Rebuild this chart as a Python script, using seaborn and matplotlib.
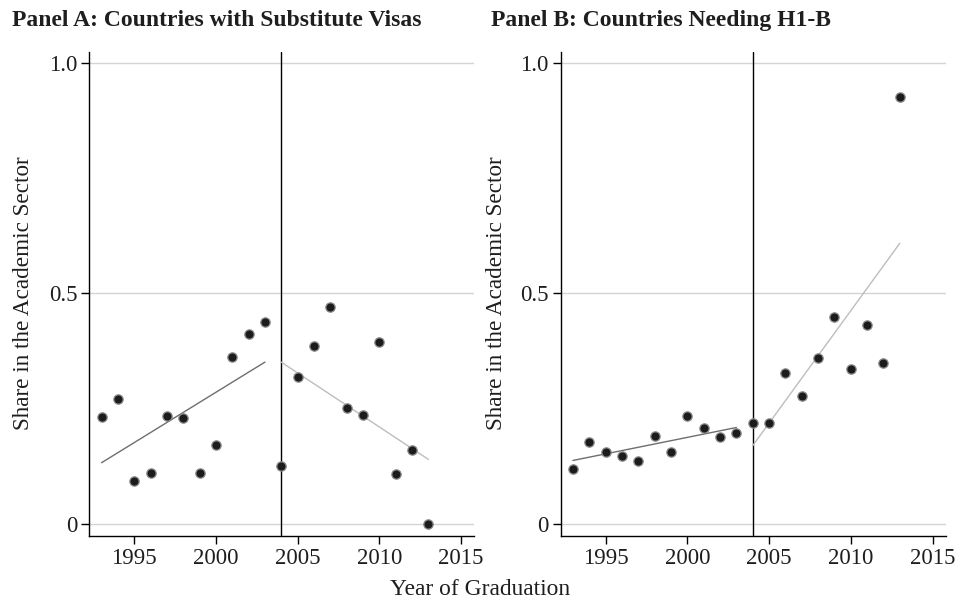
"""
Share in the academic sector by year of graduation, two panels
(substitute-visa countries vs. countries needing H1-B).
"""

import numpy as np
import pandas as pd
import matplotlib
matplotlib.use('Agg')
import matplotlib.pyplot as plt
import seaborn as sns

sns.set_theme(style='white')
plt.rcParams['font.family'] = ['Liberation Serif', 'DejaVu Serif']

# Data
years = list(range(1993, 2014))
share_substitute = [0.231, 0.270, 0.092, 0.110, 0.233, 0.229, 0.110, 0.170,
                    0.362, 0.411, 0.438, 0.125, 0.319, 0.385, 0.471, 0.252,
                    0.236, 0.394, 0.107, 0.160, 0.000]
share_h1b = [0.118, 0.177, 0.155, 0.146, 0.135, 0.190, 0.155, 0.233,
             0.208, 0.187, 0.197, 0.219, 0.219, 0.327, 0.276, 0.359,
             0.449, 0.335, 0.432, 0.349, 0.926]
cutoff_year = 2004
panel_titles = ['Panel A: Countries with Substitute Visas',
                'Panel B: Countries Needing H1-B']
x_ticks = [1995, 2000, 2005, 2010, 2015]
y_ticks = [0, 0.5, 1.0]
y_tick_labels = ['0', '0.5', '1.0']

df = pd.DataFrame({'year': years, 'A': share_substitute, 'B': share_h1b})

fig = plt.figure(figsize=(9.6, 6.02), dpi=100)
ax_pos = [[0.093, 0.1096, 0.401, 0.804], [0.584, 0.1096, 0.401, 0.804]]
title_x = [0.0125, 0.511]
ylabel_x = [0.025, 0.5175]
text_color = '#1e1e1e'

for i, col in enumerate(['A', 'B']):
    ax = fig.add_axes(ax_pos[i])
    for y in y_ticks:
        ax.axhline(y, color='#d4d4d4', linewidth=1.0, zorder=0)
    ax.axvline(cutoff_year, color='black', linewidth=1.0, zorder=1)

    pre = df[df['year'] < cutoff_year]
    post = df[df['year'] >= cutoff_year]
    sns.regplot(data=pre, x='year', y=col, scatter=False, ci=None, ax=ax,
                line_kws=dict(color='#6e6e6e', linewidth=1.0, zorder=2))
    sns.regplot(data=post, x='year', y=col, scatter=False, ci=None, ax=ax,
                line_kws=dict(color='#bdbdbd', linewidth=1.0, zorder=2))
    sns.scatterplot(data=df, x='year', y=col, ax=ax, s=45, color='#1c1c1c',
                    edgecolor='#8a8a8a', linewidth=0.9, zorder=3)

    ax.set_xlim(1992.25, 2015.8)
    ax.set_ylim(-0.0272, 1.0246)
    ax.set_xticks(x_ticks)
    ax.set_yticks(y_ticks)
    ax.set_yticklabels(y_tick_labels)
    ax.tick_params(axis='both', direction='out', length=5.5, width=1.0,
                   labelsize=16.5, color='black', labelcolor=text_color,
                   left=True, bottom=True, pad=3)
    sns.despine(ax=ax)
    for side in ['left', 'bottom']:
        ax.spines[side].set_color('black')
        ax.spines[side].set_linewidth(1.0)
    ax.set_xlabel('')
    ax.set_ylabel('')
    ax.grid(False)

    fig.text(title_x[i], 0.957, panel_titles[i], fontsize=17,
             fontweight='bold', color=text_color, ha='left', va='baseline')
    fig.text(ylabel_x[i], 0.5125, 'Share in the Academic Sector', fontsize=16.7,
             color=text_color, rotation=90, ha='center', va='center')

fig.text(0.5, 0.0116, 'Year of Graduation', fontsize=16.8, color=text_color,
         ha='center', va='baseline')

plt.savefig('out.png', dpi=100)
